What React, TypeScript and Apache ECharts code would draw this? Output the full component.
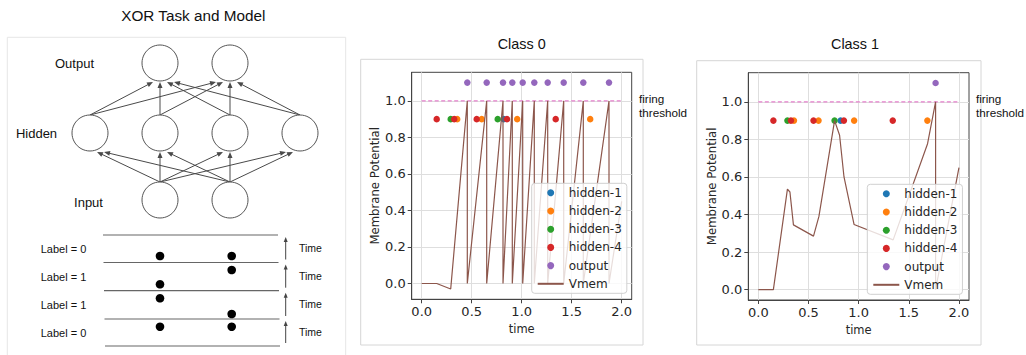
import React, { useEffect, useRef } from "react";
import * as echarts from "echarts";

// ---------- data ----------
const timeTicks = [0, 0.5, 1.0, 1.5, 2.0];
const potentialTicks = [0, 0.2, 0.4, 0.6, 0.8, 1.0];
const hiddenLevel = 0.9;
const outputLevel = 1.1;
const threshold = 1.0;

const seriesNames = ["hidden-1", "hidden-2", "hidden-3", "hidden-4", "output", "Vmem"];
const panelTitles = ["Class 0", "Class 1"];

const hidden1Spikes = [0.82];
const hidden2Spikes = [0.355, 0.6, 0.955, 1.685];
const hidden3Spikes = [0.29, 0.76];
const hidden4Spikes = [0.15, 0.325, 0.55, 0.853, 1.34];

const class0OutputSpikes = [0.456, 0.65, 0.813, 0.906, 1.01, 1.126, 1.26, 1.42, 1.616, 1.873];
const class1OutputSpikes = [1.767];

const class0Vmem = [
  [0, 0], [0.15, 0], [0.29, -0.03], [0.456, 1.0], [0.456, 0], [0.65, 1.0], [0.65, 0],
  [0.813, 1.0], [0.813, 0], [0.906, 1.0], [0.906, 0], [1.01, 1.0], [1.01, 0],
  [1.126, 1.0], [1.126, 0], [1.26, 1.0], [1.26, 0], [1.42, 1.0], [1.42, 0],
  [1.616, 1.0], [1.616, 0], [1.873, 1.0], [1.873, 0], [2.0, 0.45],
];
const class1Vmem = [
  [0, 0], [0.15, 0], [0.29, 0.535], [0.315, 0.52], [0.35, 0.345], [0.55, 0.285],
  [0.604, 0.39], [0.76, 0.9], [0.81, 0.822], [0.854, 0.6], [0.954, 0.347],
  [1.344, 0.265], [1.687, 0.777], [1.767, 1.0], [1.767, 0], [2.0, 0.65],
];

const xorRowLabels = ["Label = 0", "Label = 1", "Label = 1", "Label = 0"];

// ---------- styles / layout ----------
const COLORS = ["#1f77b4", "#ff7f0e", "#2ca02c", "#d62728", "#9467bd"];
const VMEM_COLOR = "#8c564b";
const THRESH_COLOR = "#e580cc";
const GRIDS = [
  { left: 411.7, top: 72.3, width: 220, height: 227, ymin: -0.0865, ymax: 1.1565 },
  { left: 748.3, top: 72.7, width: 220.7, height: 227.3, ymin: -0.055, ymax: 1.155 },
];
const LEGEND_POS = [
  { left: 531.7, top: 183.3 },
  { left: 867.3, top: 184.3 },
];
const SANS = "Liberation Sans";
const MPL = "DejaVu Sans";

function arrow(x1: number, y1: number, x2: number, y2: number, color: string, head = 6, half = 2.5, lw = 1) {
  const dx = x2 - x1, dy = y2 - y1;
  const L = Math.hypot(dx, dy);
  const ux = dx / L, uy = dy / L;
  const bx = x2 - ux * head, by = y2 - uy * head;
  const px = -uy * half, py = ux * half;
  return [
    { type: "line", silent: true, shape: { x1, y1, x2: bx + ux, y2: by + uy }, style: { stroke: color, lineWidth: lw } },
    { type: "polygon", silent: true, shape: { points: [[x2, y2], [bx + px, by + py], [bx - px, by - py]] }, style: { fill: color } },
  ];
}

function txt(text: string, x: number, y: number, size: number, family: string, align = "center", fill = "#111") {
  return {
    type: "text",
    silent: true,
    x,
    y,
    style: { text, fontSize: size, fontFamily: family, fill, align, textAlign: align, verticalAlign: "middle", textVerticalAlign: "middle" },
  };
}

function buildDiagram() {
  const els: any[] = [];
  const R = 18;
  const outX = [160, 230];
  const hidX = [90, 160, 230, 300];
  const inX = [160, 230];
  const outY = 63, hidY = 133, inY = 200;
  const edge = "#4a4a4a";
  els.push({ type: "rect", silent: true, shape: { x: 7.3, y: 37.3, width: 338.4, height: 330 }, style: { fill: "none", stroke: "#e6e6e6", lineWidth: 1 } });
  hidX.forEach((hx) => outX.forEach((ox) => {
    els.push(...arrow(hx, hidY - R, ox + (hx - ox) * 0.1, outY + R + 1, edge));
  }));
  inX.forEach((ix) => hidX.forEach((hx) => {
    els.push(...arrow(ix, inY - R, hx + (ix - hx) * 0.1, hidY + R + 1, edge));
  }));
  const node = (cx: number, cy: number) => ({ type: "circle", silent: true, shape: { cx, cy, r: R }, style: { fill: "#fff", stroke: "#555", lineWidth: 1 } });
  outX.forEach((x) => els.push(node(x, outY)));
  hidX.forEach((x) => els.push(node(x, hidY)));
  inX.forEach((x) => els.push(node(x, inY)));
  els.push(txt("Output", 74.5, 63, 13, SANS));
  els.push(txt("Hidden", 36.5, 133, 13, SANS));
  els.push(txt("Input", 88.5, 202, 13, SANS));
  const lineYs = [235, 262.5, 290.7, 319, 346];
  lineYs.forEach((y, i) => {
    els.push({ type: "line", silent: true, shape: { x1: 103 + i * 0.5, y1: y, x2: 278 + i * 0.5, y2: y }, style: { stroke: "#666", lineWidth: 1.2 } });
  });
  xorRowLabels.forEach((lab, i) => {
    const top = lineYs[i], bot = lineYs[i + 1];
    els.push(txt(lab, 40.7, (top + bot) / 2 + 0.5, 11, SANS, "left"));
    els.push(...arrow(285.7, bot - 3, 285.7, top + 2, "#444", 5, 2, 1));
    els.push(txt("Time", 299, (top + bot) / 2 - 0.5, 10.5, SANS, "left"));
  });
  const dots = [
    [160, 256], [231.7, 256], [231.7, 270], [160, 284.3], [160, 298.3], [231.7, 314], [160, 326.7], [231.7, 326.7],
  ];
  dots.forEach(([cx, cy]) => els.push({ type: "circle", silent: true, shape: { cx, cy, r: 4.3 }, style: { fill: "#000" } }));
  return els;
}

function panelSeries(idx: number, outputSpikes: number[], vmem: number[][]) {
  const hiddenSets = [hidden1Spikes, hidden2Spikes, hidden3Spikes, hidden4Spikes];
  const s: any[] = hiddenSets.map((sp, i) => ({
    type: "scatter",
    name: seriesNames[i],
    xAxisIndex: idx,
    yAxisIndex: idx,
    data: sp.map((t) => [t, hiddenLevel]),
    symbolSize: 6.5,
    itemStyle: { color: COLORS[i], opacity: 1 },
  }));
  s.push({
    type: "scatter",
    name: seriesNames[4],
    xAxisIndex: idx,
    yAxisIndex: idx,
    data: outputSpikes.map((t) => [t, outputLevel]),
    symbolSize: 6.5,
    itemStyle: { color: COLORS[4], opacity: 1 },
  });
  s.push({
    type: "line",
    name: "threshold",
    xAxisIndex: idx,
    yAxisIndex: idx,
    data: [[timeTicks[0], threshold], [timeTicks[timeTicks.length - 1], threshold]],
    symbol: "none",
    showSymbol: false,
    lineStyle: { color: THRESH_COLOR, width: 1.2, type: [4, 2.5] },
  });
  s.push({
    type: "line",
    name: seriesNames[5],
    xAxisIndex: idx,
    yAxisIndex: idx,
    data: vmem,
    symbol: "none",
    showSymbol: false,
    lineStyle: { color: VMEM_COLOR, width: 1.2 },
    itemStyle: { color: VMEM_COLOR },
  });
  return s;
}

export default function App() {
  const ref = useRef<HTMLDivElement>(null);
  useEffect(() => {
    if (!ref.current) return;
    const chart = echarts.init(ref.current, undefined, { renderer: "svg" });
    const fmt = (v: number) => v.toFixed(1);
    const option: any = {
      animation: false,
      textStyle: { fontFamily: MPL },
      grid: GRIDS.map((g) => ({
        left: g.left, top: g.top, width: g.width, height: g.height,
        show: true, borderColor: "#444", borderWidth: 1, backgroundColor: "transparent",
      })),
      xAxis: GRIDS.map((g, i) => ({
        type: "value",
        gridIndex: i,
        min: -0.1,
        max: 2.1,
        name: "time",
        nameLocation: "middle",
        nameGap: 21,
        nameTextStyle: { fontSize: 11.5, fontFamily: MPL, color: "#262626" },
        axisLine: { show: true, onZero: false, lineStyle: { color: "#444" } },
        axisTick: { show: true, customValues: timeTicks, length: 4, lineStyle: { color: "#444" } },
        axisLabel: { customValues: timeTicks, formatter: fmt, fontSize: 13, fontFamily: MPL, color: "#262626", margin: 6 },
        splitLine: { show: true, lineStyle: { color: "#dedede", width: 1 } },
      })),
      yAxis: GRIDS.map((g, i) => ({
        type: "value",
        gridIndex: i,
        min: g.ymin,
        max: g.ymax,
        name: "Membrane Potential",
        nameLocation: "middle",
        nameRotate: 90,
        nameGap: 29,
        nameTextStyle: { fontSize: 11.7, fontFamily: MPL, color: "#262626" },
        axisLine: { show: true, onZero: false, lineStyle: { color: "#444" } },
        axisTick: { show: true, customValues: potentialTicks, length: 4, lineStyle: { color: "#444" } },
        axisLabel: { customValues: potentialTicks, formatter: fmt, fontSize: 13, fontFamily: MPL, color: "#262626", margin: 6 },
        splitLine: { show: true, lineStyle: { color: "#dedede", width: 1 } },
      })),
      legend: LEGEND_POS.map((p) => ({
        data: [
          ...seriesNames.slice(0, 5).map((n) => ({ name: n, icon: "circle" })),
          { name: seriesNames[5], itemStyle: { opacity: 0 } },
        ],
        orient: "vertical",
        left: p.left,
        top: p.top,
        itemWidth: 26,
        itemHeight: 7,
        itemGap: 6.2,
        padding: [3.5, 5, 3.5, 5],
        align: "left",
        selectedMode: false,
        backgroundColor: "rgba(255,255,255,0.8)",
        borderColor: "#d0d0d0",
        borderWidth: 1,
        borderRadius: 3,
        textStyle: { fontSize: 12, fontFamily: MPL, color: "#262626" },
      })),
      series: [
        ...panelSeries(0, class0OutputSpikes, class0Vmem),
        ...panelSeries(1, class1OutputSpikes, class1Vmem),
      ],
      graphic: [
        ...buildDiagram(),
        txt("XOR Task and Model", 193.3, 15, 15.3, SANS),
        txt(panelTitles[0], 521.7, 44, 14.4, SANS),
        txt(panelTitles[1], 855, 44, 14.4, SANS),
        { type: "rect", silent: true, shape: { x: 360.7, y: 59.3, width: 282.3, height: 285.7 }, style: { fill: "none", stroke: "#d6d6d6", lineWidth: 1 } },
        { type: "rect", silent: true, shape: { x: 696.7, y: 60.7, width: 284.3, height: 284.3 }, style: { fill: "none", stroke: "#d6d6d6", lineWidth: 1 } },
        txt("firing", 639, 98, 11.7, SANS, "left"),
        txt("threshold", 639, 112, 11.7, SANS, "left"),
        txt("firing", 976, 98, 11.7, SANS, "left"),
        txt("threshold", 976, 112, 11.7, SANS, "left"),
      ],
    };
    chart.setOption(option);
    return () => chart.dispose();
  }, []);
  return (
    <div
      ref={ref}
      style={{ position: "fixed", left: 0, top: 0, width: 1026, height: 355, background: "#fff" }}
    />
  );
}
